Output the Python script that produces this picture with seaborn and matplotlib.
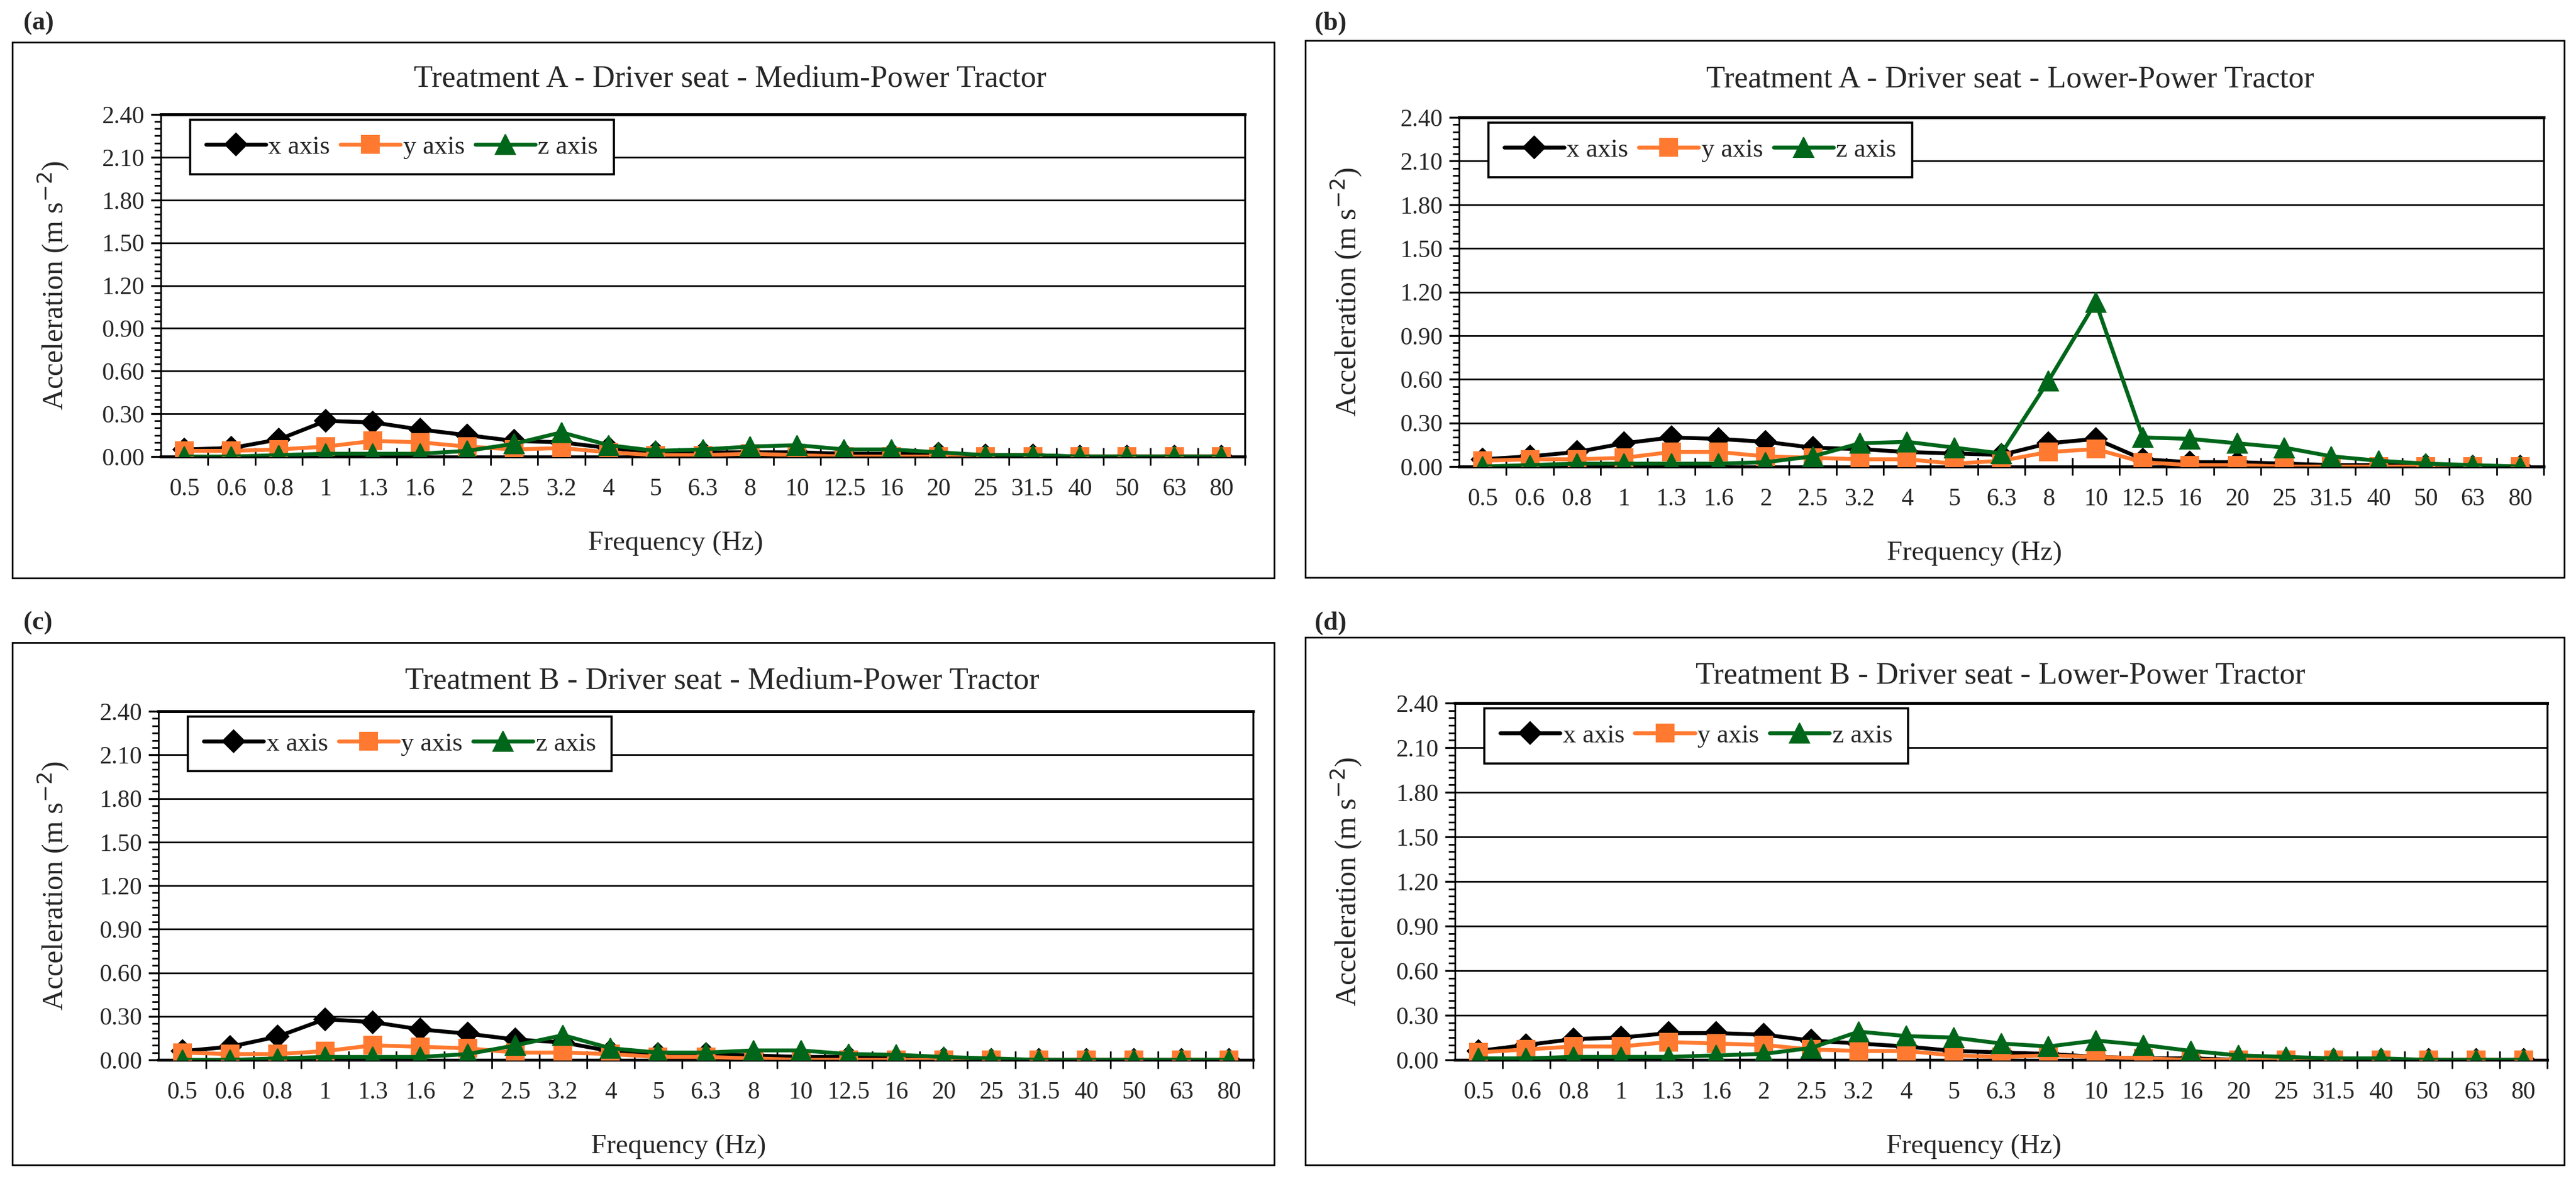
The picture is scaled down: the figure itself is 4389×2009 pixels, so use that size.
import matplotlib
matplotlib.use("Agg")
import matplotlib.pyplot as plt
from matplotlib.patches import Rectangle
from matplotlib.ticker import MultipleLocator, FormatStrFormatter
import seaborn as sns

# frequency bands (Hz), shared by all four charts
freq_labels = ["0.5", "0.6", "0.8", "1", "1.3", "1.6", "2", "2.5", "3.2", "4", "5", "6.3",
               "8", "10", "12.5", "16", "20", "25", "31.5", "40", "50", "63", "80"]

# (a) Treatment A - Medium-Power Tractor
a_x = [0.05, 0.06, 0.12, 0.25, 0.24, 0.19, 0.15, 0.11, 0.10, 0.06, 0.03, 0.03,
       0.03, 0.03, 0.02, 0.02, 0.02, 0.01, 0.01, 0.00, 0.00, 0.00, 0.00]
a_y = [0.04, 0.04, 0.05, 0.07, 0.11, 0.10, 0.07, 0.05, 0.06, 0.03, 0.01, 0.01,
       0.02, 0.01, 0.00, 0.00, 0.00, 0.00, 0.00, 0.00, 0.00, 0.00, 0.00]
a_z = [0.00, 0.00, 0.01, 0.02, 0.02, 0.02, 0.04, 0.09, 0.17, 0.08, 0.04, 0.05,
       0.07, 0.08, 0.05, 0.05, 0.03, 0.01, 0.01, 0.00, 0.00, 0.00, 0.00]

# (b) Treatment A - Lower-Power Tractor
b_x = [0.05, 0.07, 0.10, 0.16, 0.20, 0.19, 0.17, 0.13, 0.12, 0.10, 0.09, 0.08,
       0.16, 0.19, 0.05, 0.03, 0.03, 0.02, 0.01, 0.01, 0.01, 0.00, 0.00]
b_y = [0.04, 0.05, 0.05, 0.06, 0.10, 0.10, 0.07, 0.06, 0.05, 0.05, 0.02, 0.04,
       0.10, 0.12, 0.03, 0.01, 0.01, 0.00, 0.00, 0.00, 0.00, 0.00, 0.00]
b_z = [0.00, 0.01, 0.02, 0.02, 0.02, 0.02, 0.03, 0.07, 0.16, 0.17, 0.13, 0.09,
       0.59, 1.13, 0.20, 0.19, 0.16, 0.13, 0.07, 0.04, 0.02, 0.01, 0.00]

# (c) Treatment B - Medium-Power Tractor
c_x = [0.06, 0.09, 0.16, 0.28, 0.26, 0.21, 0.18, 0.14, 0.12, 0.06, 0.04, 0.04,
       0.03, 0.02, 0.02, 0.01, 0.01, 0.00, 0.00, 0.00, 0.00, 0.00, 0.00]
c_y = [0.05, 0.04, 0.04, 0.06, 0.10, 0.09, 0.08, 0.05, 0.05, 0.04, 0.02, 0.02,
       0.01, 0.00, 0.00, 0.00, 0.00, 0.00, 0.00, 0.00, 0.00, 0.00, 0.00]
c_z = [0.00, 0.00, 0.01, 0.02, 0.02, 0.02, 0.04, 0.10, 0.17, 0.08, 0.05, 0.05,
       0.065, 0.065, 0.04, 0.035, 0.02, 0.01, 0.00, 0.00, 0.00, 0.00, 0.00]

# (d) Treatment B - Lower-Power Tractor
d_x = [0.06, 0.10, 0.14, 0.15, 0.18, 0.18, 0.17, 0.13, 0.11, 0.09, 0.06, 0.05,
       0.04, 0.02, 0.01, 0.01, 0.00, 0.00, 0.00, 0.00, 0.00, 0.00, 0.00]
d_y = [0.05, 0.07, 0.09, 0.09, 0.12, 0.11, 0.10, 0.07, 0.06, 0.06, 0.03, 0.02,
       0.03, 0.02, 0.01, 0.00, 0.00, 0.00, 0.00, 0.00, 0.00, 0.00, 0.00]
d_z = [0.01, 0.01, 0.02, 0.02, 0.02, 0.03, 0.04, 0.08, 0.19, 0.16, 0.15, 0.11,
       0.09, 0.13, 0.10, 0.06, 0.03, 0.02, 0.01, 0.01, 0.00, 0.00, 0.00]

series_names = ["x axis", "y axis", "z axis"]
series_colors = ["#000000", "#FF7A30", "#00661A"]
series_markers = ["D", "s", "^"]
series_msize = [9.5, 11, 12]

panels = [
    ("(a)", "Treatment A - Driver seat - Medium-Power Tractor", [a_x, a_y, a_z]),
    ("(b)", "Treatment A - Driver seat - Lower-Power Tractor", [b_x, b_y, b_z]),
    ("(c)", "Treatment B - Driver seat - Medium-Power Tractor", [c_x, c_y, c_z]),
    ("(d)", "Treatment B - Driver seat - Lower-Power Tractor", [d_x, d_y, d_z]),
]

W, H = 4389, 2009
# layout in pixels: axes (left, right, top, bottom), outer box (left, right, top, bottom),
# title centre (x, y), panel letter (x, y)
layout = [
    ((274, 2121, 195, 778), (21, 2171, 72, 985), (1244, 135), (40, 40)),
    ((2486, 4334, 200, 795), (2224, 4369, 69, 984), (3425, 136), (2240, 40)),
    ((270, 2135, 1212, 1806), (21, 2171, 1095, 1985), (1230, 1161), (40, 1062)),
    ((2479, 4340, 1198, 1806), (2224, 4369, 1086, 1985), (3408, 1152), (2240, 1062)),
]

sns.set_theme(style="white")
plt.rcParams["font.family"] = ["Liberation Serif", "DejaVu Serif"]

fig = plt.figure(figsize=(W / 200, H / 200), dpi=200)
fig.patch.set_facecolor("white")

for (letter, title, values), (ax_px, box_px, title_px, letter_px) in zip(panels, layout):
    l, r, t, b = ax_px
    bl, br, bt, bb = box_px
    ax = fig.add_axes([l / W, 1 - b / H, (r - l) / W, (b - t) / H])

    for name, vals, col, mk, ms in zip(series_names, values, series_colors, series_markers, series_msize):
        sns.lineplot(x=freq_labels, y=vals, ax=ax, color=col, marker=mk, markersize=ms,
                     markeredgecolor=col, linewidth=2.4, label=name, sort=False, zorder=3)

    ax.set_xlim(-0.5, len(freq_labels) - 0.5)
    ax.set_ylim(0, 2.40)
    ax.yaxis.set_major_locator(MultipleLocator(0.30))
    ax.yaxis.set_minor_locator(MultipleLocator(0.05))
    ax.yaxis.set_major_formatter(FormatStrFormatter("%.2f"))
    ax.grid(axis="y", which="major", color="black", linewidth=1.0, zorder=1)
    ax.set_axisbelow(True)

    ax.set_xticks(range(len(freq_labels)))
    ax.set_xticklabels(freq_labels)
    ax.set_xticks([i + 0.5 for i in range(len(freq_labels))], minor=True)
    ax.tick_params(axis="x", which="major", length=0, pad=13, labelsize=15)
    ax.tick_params(axis="x", which="minor", direction="inout", length=11, width=1.0,
                   color="black", bottom=True)
    ax.tick_params(axis="y", which="major", direction="out", length=6, width=1.2,
                   color="black", left=True, labelsize=15, pad=4)
    ax.tick_params(axis="y", which="minor", direction="out", length=4, width=1.0,
                   color="black", left=True)

    for side, lw in [("top", 1.8), ("right", 1.2), ("left", 1.0), ("bottom", 1.8)]:
        ax.spines[side].set_visible(True)
        ax.spines[side].set_color("black")
        ax.spines[side].set_linewidth(lw)

    # axis titles placed in pixel offsets from the plot area / chart box
    ax.text(0.475, -148 / (b - t), "Frequency (Hz)", transform=ax.transAxes,
            fontsize=17, ha="center", va="center")
    ax.text((bl + 70 - l) / (r - l), 0.5, "Acceleration (m s$^{-2}$)", transform=ax.transAxes,
            fontsize=18, rotation=90, ha="center", va="center")

    leg = ax.legend(loc="upper left", bbox_to_anchor=(0.027, 0.985), ncol=3, fontsize=16,
                    frameon=True, fancybox=False, edgecolor="black", framealpha=1,
                    handlelength=2.3, handletextpad=0.1, columnspacing=0.4,
                    borderpad=0.6, borderaxespad=0)
    leg.get_frame().set_linewidth(1.3)

    fig.text(title_px[0] / W, 1 - title_px[1] / H, title, fontsize=19,
             ha="center", va="center")
    fig.text(letter_px[0] / W, 1 - letter_px[1] / H, letter, fontsize=16,
             fontweight="bold", ha="left", va="center")

    fig.patches.append(Rectangle((bl / W, 1 - bb / H), (br - bl) / W, (bb - bt) / H,
                                 transform=fig.transFigure, fill=False,
                                 edgecolor="black", linewidth=1.0))

fig.savefig("out.png", dpi=200, facecolor="white")
